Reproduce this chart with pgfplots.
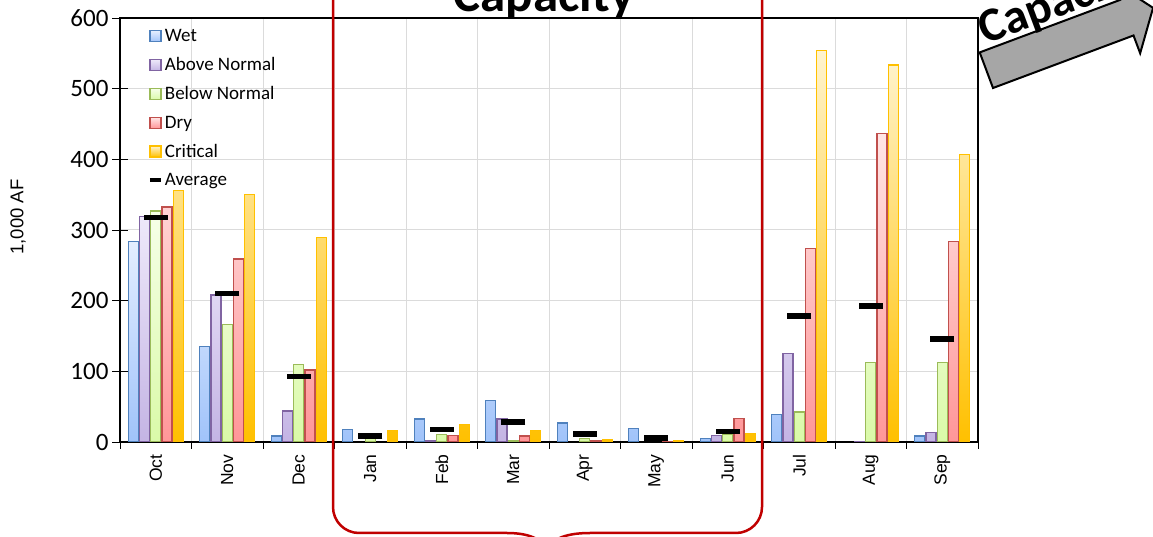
\documentclass[border=0pt]{standalone}
\usepackage{fontspec}
\setmainfont{Carlito}
\newfontfamily\arialf{Liberation Sans}
\usepackage{pgfplots}
\pgfplotsset{compat=1.18}

\definecolor{wetD}{RGB}{79,129,189}
\definecolor{wetT}{RGB}{228,238,255}
\definecolor{wetB}{RGB}{160,195,250}
\definecolor{anD}{RGB}{128,100,162}
\definecolor{anT}{RGB}{238,233,250}
\definecolor{anB}{RGB}{196,180,228}
\definecolor{bnD}{RGB}{155,187,89}
\definecolor{bnT}{RGB}{246,255,232}
\definecolor{bnB}{RGB}{218,250,168}
\definecolor{drD}{RGB}{192,80,77}
\definecolor{drT}{RGB}{255,230,230}
\definecolor{drB}{RGB}{255,150,152}
\definecolor{crD}{RGB}{255,192,0}
\definecolor{crT}{RGB}{255,244,208}
\definecolor{crB}{RGB}{255,192,0}
\definecolor{redline}{RGB}{192,0,0}
\definecolor{arrowgray}{RGB}{166,166,166}

\pgfplotsset{
  barleg/.style={legend image code/.code={%
    \draw[##1] (0pt,-5.5pt) rectangle (11pt,5.5pt);}},
}

\begin{document}
\begin{tikzpicture}
\useasboundingbox (0pt,0pt) rectangle (1153pt,537pt);
\clip (0pt,0pt) rectangle (1153pt,537pt);
\begin{axis}[at={(120pt,95pt)},anchor=south west,
  width=858pt,height=424pt,scale only axis,
  xmin=-0.5,xmax=11.5,ymin=0,ymax=600,
  xtick={0,...,11},
  xticklabels={Oct,Nov,Dec,Jan,Feb,Mar,Apr,May,Jun,Jul,Aug,Sep},
  major x tick style={draw=none},
  minor xtick={-0.5,0.5,...,11.5},
  xminorgrids=true,
  ytick={0,100,...,600},
  ymajorgrids=true,
  xtick pos=bottom,ytick pos=left,
  grid style={draw=black!14,line width=1pt},
  minor grid style={draw=black!14,line width=1pt},
  xtick align=outside,ytick align=center,
  major tick length=16pt,minor tick length=7pt,
  tick style={black,line width=0.9pt},
  axis line style={line width=1.3pt},
  /pgf/number format/assume math mode=true,
  yticklabel style={font=\fontsize{25}{28}\selectfont},
  xticklabel shift=-7pt,
  xticklabel style={rotate=90,anchor=east,font=\arialf\fontsize{17.5}{20}\selectfont},
  legend style={at={(0.03,0.983)},anchor=north west,draw=none,fill=none,
    font=\fontsize{19}{22}\selectfont,row sep=10.5pt,inner xsep=2pt},
  legend cell align=left,
]
\addplot[ybar,bar width=10pt,bar shift=-22.4pt,draw=wetD,line width=1.2pt,
  top color=wetT,bottom color=wetB,barleg] coordinates {
  (0,284) (1,135) (2,8.5) (3,17.5) (4,32.5) (5,58.5) (6,27) (7,19.5) (8,5) (9,39) (11,8.5)};
\addlegendentry{Wet}
\addplot[ybar,bar width=10pt,bar shift=-11.2pt,draw=anD,line width=1.2pt,
  top color=anT,bottom color=anB,barleg] coordinates {
  (0,319) (1,208) (2,44) (4,2) (5,32.5) (8,9.5) (9,125.5) (10,1) (11,14)};
\addlegendentry{Above Normal}
\addplot[ybar,bar width=10pt,bar shift=0pt,draw=bnD,line width=1.2pt,
  top color=bnT,bottom color=bnB,barleg] coordinates {
  (0,327) (1,166.5) (2,110) (3,5) (4,11) (5,1.5) (6,5) (8,11) (9,42.5) (10,112) (11,113)};
\addlegendentry{Below Normal}
\addplot[ybar,bar width=10pt,bar shift=11.2pt,draw=drD,line width=1.2pt,
  top color=drT,bottom color=drB,barleg] coordinates {
  (0,332.5) (1,259) (2,102) (4,9.5) (5,8.5) (6,2.5) (7,1) (8,33.5) (9,273.5) (10,436) (11,283.5)};
\addlegendentry{Dry}
\addplot[ybar,bar width=10pt,bar shift=22.4pt,draw=crD,line width=1.2pt,
  top color=crT,bottom color=crB,barleg] coordinates {
  (0,356) (1,350) (2,289) (3,16.5) (4,25) (5,16) (6,3) (7,2.5) (8,12) (9,553.5) (10,533.5) (11,406.5)};
\addlegendentry{Critical}
\addplot[only marks,mark=-,mark size=12pt,mark options={black,line width=5.5pt},
  legend image code/.code={\draw[black,line width=4pt] (0pt,0pt) -- (11pt,0pt);}]
  coordinates {
  (0,318) (1,210) (2,92.5) (3,8.5) (4,18) (5,28) (6,11) (7,5.7) (8,15) (9,178.5) (10,192.5) (11,146)};
\addlegendentry{Average}
\end{axis}
% y label
\node[rotate=90,font=\arialf\fontsize{18.5}{21}\selectfont] at (18pt,320pt) {1,000 AF};
% bracket round Jan to Jun
\begin{scope}[x=1pt,y=1pt]
\draw[redline,line width=2.5pt] (333,545) -- (333,30) arc[start angle=180,end angle=270,radius=26pt]
  -- (507,4) .. controls (532,4) and (544,-4) .. (547,-14);
\draw[redline,line width=2.5pt] (762,545) -- (762,30) arc[start angle=0,end angle=-90,radius=26pt]
  -- (590,4) .. controls (562,4) and (550,-4) .. (547,-14);
\node[anchor=base,inner sep=0,font=\bfseries\fontsize{51}{60}\selectfont] at (544,525) {Capacity};
\end{scope}
% arrow top right
\begin{scope}[x=1pt,y=1pt,shift={(993pt,449pt)},rotate=20.5]
\draw[fill=arrowgray,line width=2pt,line join=miter]
  (0,0) -- (150,0) -- (150,-19) -- (178,19) -- (150,57) -- (150,38) -- (0,38) -- cycle;
\node[anchor=base west,inner sep=0,rotate=20.5,font=\bfseries\fontsize{48}{54}\selectfont] at (8,43) {Capacity};
\end{scope}
\end{tikzpicture}
\end{document}
